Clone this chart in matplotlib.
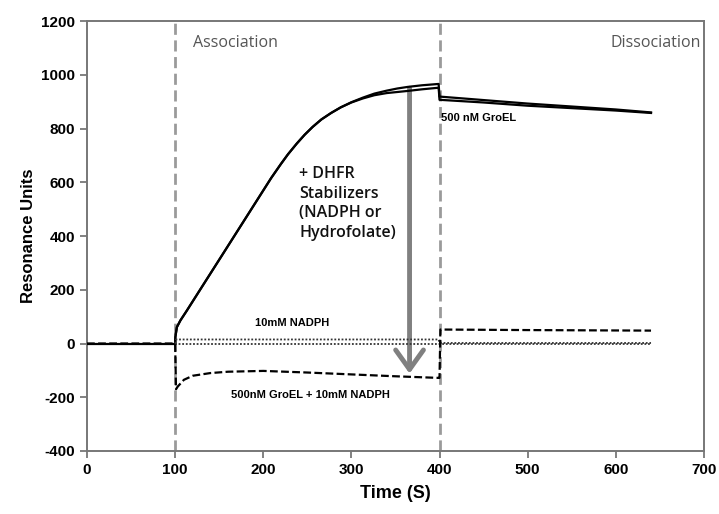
import matplotlib
matplotlib.use("Agg")
import matplotlib.pyplot as plt

# baseline before injection
base_t = [0, 100]
base_y = [0, 0]

# 500 nM GroEL, two runs (association + dissociation)
run1_t = [100, 100.3, 102, 106, 113, 132, 152, 171, 190, 209, 220, 228, 238, 247, 256, 266,
          277, 288, 300, 313, 326, 340, 352, 364, 380, 399, 400, 450, 500, 550, 600, 640]
run1_y = [0, 25, 61, 86, 121, 219, 322, 420, 518, 616, 668, 704, 744, 777, 806, 834,
          858, 879, 898, 915, 930, 941, 949, 955, 961, 966, 919, 906, 893, 882, 871, 860]
run2_t = [100, 100.3, 102, 106, 113, 132, 152, 171, 190, 209, 220, 228, 238, 247, 256, 266,
          277, 288, 300, 313, 326, 340, 352, 364, 380, 399, 400, 450, 500, 550, 600, 640]
run2_y = [0, 25, 61, 86, 121, 219, 322, 420, 518, 616, 668, 704, 744, 777, 806, 834,
          858, 879, 897, 912, 924, 932, 936, 940, 946, 952, 907, 897, 885, 876, 867, 858]

# 10 mM NADPH (dotted)
nadph_t = [100, 101, 399, 400, 640]
nadph_y = [0, 15, 15, 2, 2]
ref_t = [100, 400, 640]
ref_y = [0, 0, 0]

# 500 nM GroEL + 10 mM NADPH (dashed)
mix_t = [0, 100, 101, 103, 110, 120, 140, 160, 200, 250, 300, 350, 399, 400, 401, 500, 640]
mix_y = [0, 0, -170, -160, -135, -120, -110, -105, -102, -108, -115, -122, -128, -128, 52, 50, 48]

xticks = [0, 100, 200, 300, 400, 500, 600, 700]
yticks = [-400, -200, 0, 200, 400, 600, 800, 1000, 1200]

plt.rcParams["font.family"] = ["Liberation Sans", "DejaVu Sans"]
plt.rcParams["axes.unicode_minus"] = False

fig = plt.figure(figsize=(7.19, 5.14), dpi=100)
ax = fig.add_axes([0.121, 0.1226, 0.858, 0.8364])

# phase markers
for xv in (100, 400):
    ax.axvline(xv, color="#9a9a9a", linestyle=(0, (4, 2)), linewidth=2, zorder=1)

ax.plot(base_t, base_y, color="black", linewidth=1.6, zorder=3)
ax.plot(run1_t, run1_y, color="black", linewidth=1.6, zorder=3)
ax.plot(run2_t, run2_y, color="black", linewidth=1.6, zorder=3)
ax.plot(nadph_t, nadph_y, color="#333333", linestyle=(0, (1, 1)), linewidth=1.3, zorder=3)
ax.plot(ref_t, ref_y, color="#333333", linestyle=(0, (1, 1)), linewidth=1.3, zorder=3)
ax.plot(mix_t, mix_y, color="black", linestyle=(0, (3.5, 1.5)), linewidth=1.6, zorder=3)

# stabilizer arrow
ax.annotate("", xy=(366, -112), xytext=(366, 950),
            arrowprops=dict(arrowstyle="->,head_length=0.7,head_width=0.5",
                            color="#808080", lw=3.5, mutation_scale=20,
                            shrinkA=0, shrinkB=0), zorder=2)

ax.text(120, 1120, "Association", color="#555555", fontsize=11.5,
        family=["Open Sans", "DejaVu Sans"], va="center")
ax.text(697, 1120, "Dissociation", color="#555555", fontsize=11.5,
        family=["Open Sans", "DejaVu Sans"], va="center", ha="right")
ax.text(402, 840, "500 nM GroEL", fontsize=8, fontweight="bold", va="center")
ax.text(233, 75, "10mM NADPH", fontsize=8, fontweight="bold", va="center", ha="center")
ax.text(254, -190, "500nM GroEL + 10mM NADPH", fontsize=8, fontweight="bold",
        va="center", ha="center")
ax.text(241, 660, "+ DHFR\nStabilizers\n(NADPH or\nHydrofolate)", fontsize=11.5,
        family=["Open Sans", "DejaVu Sans"], fontweight="semibold",
        va="top", ha="left", linespacing=1.3, color="#111111")

ax.set_xlim(0, 700)
ax.set_ylim(-400, 1200)
ax.set_xticks(xticks)
ax.set_yticks(yticks)
ax.tick_params(direction="out", length=5, width=1.3, color="#777777", labelsize=11)
for lab in ax.get_xticklabels() + ax.get_yticklabels():
    lab.set_fontweight("bold")
for sp in ax.spines.values():
    sp.set_color("#777777")
    sp.set_linewidth(1.4)

ax.set_xlabel("Time (S)", fontsize=13, fontweight="bold", labelpad=6)
ax.set_ylabel("Resonance Units", fontsize=12, fontweight="bold", labelpad=4)

fig.savefig("out.png", dpi=100)
